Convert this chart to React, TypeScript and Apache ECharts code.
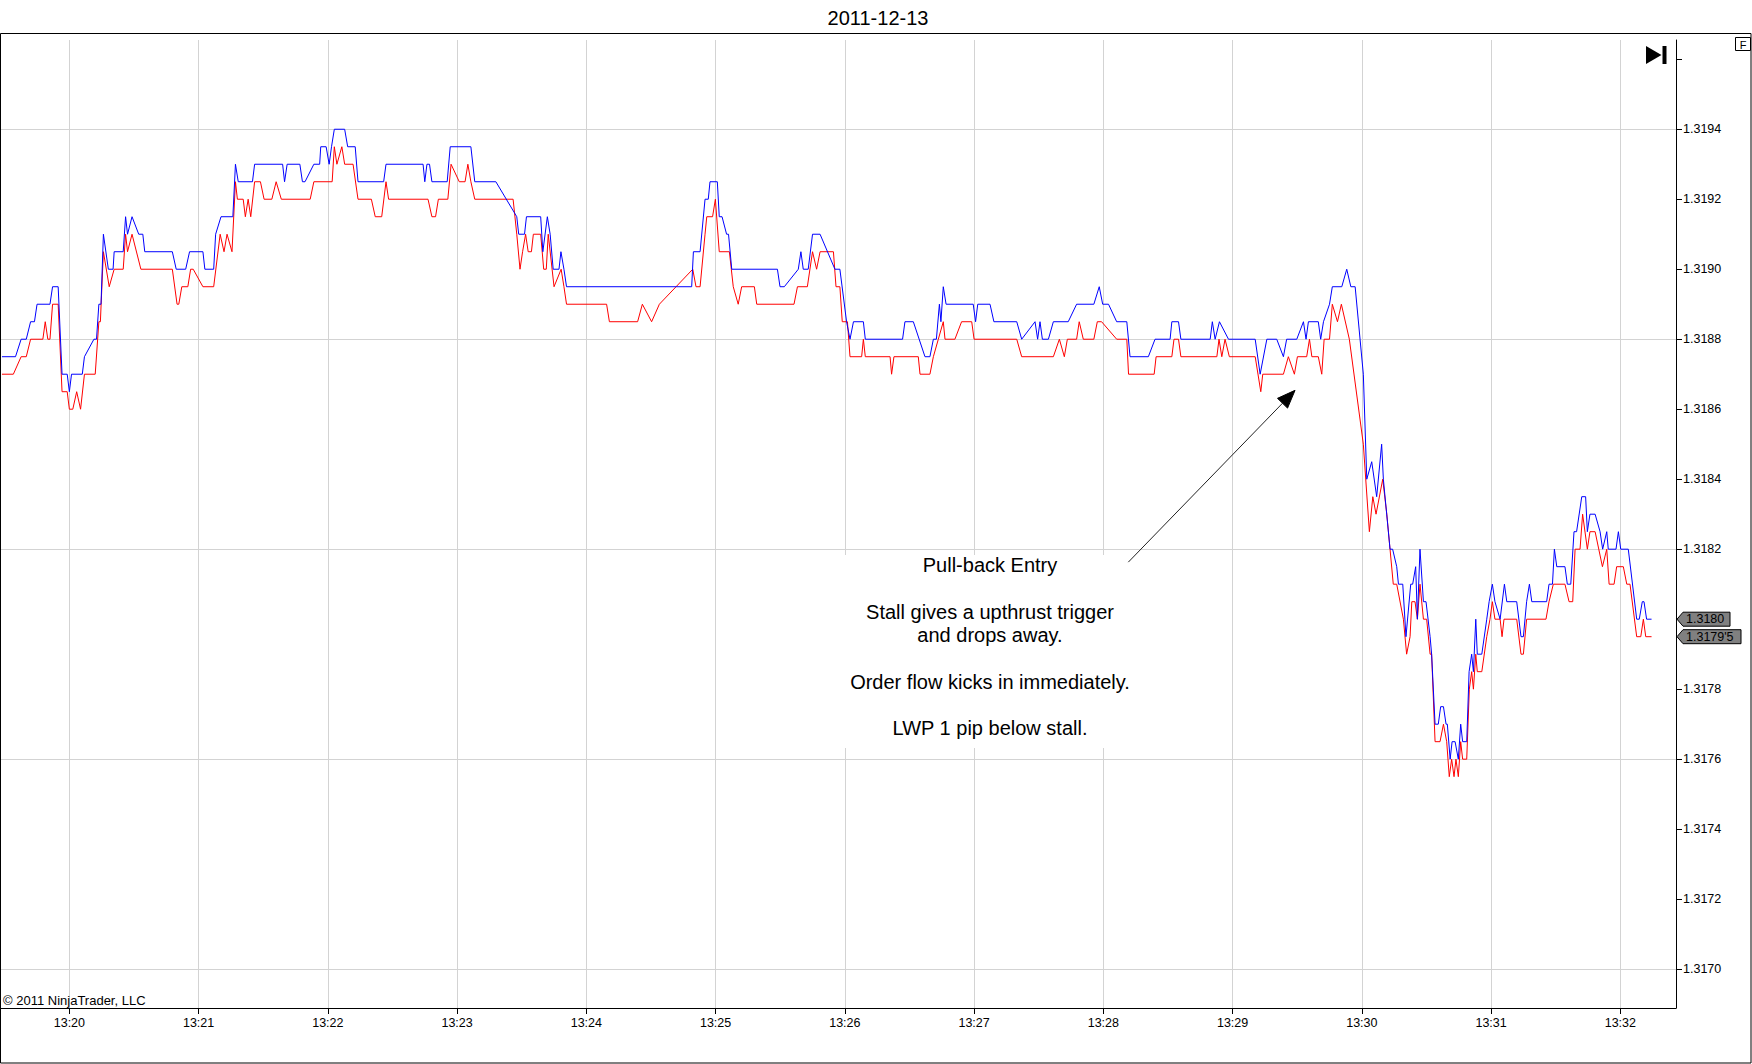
import React, { useEffect, useRef } from "react";
import * as echarts from "echarts";

const TITLE = "2011-12-13";
const COPYRIGHT = "© 2011 NinjaTrader, LLC";
const FONT = "'Liberation Sans', Arial, sans-serif";

// x values: seconds after 13:20:00
const minuteTicks = [0, 60, 120, 180, 240, 300, 360, 420, 480, 540, 600, 660, 720];
const xMin = -32.2;
const xMax = 745.85;

const priceTicks = [1.317, 1.3172, 1.3174, 1.3176, 1.3178, 1.318, 1.3182, 1.3184, 1.3186, 1.3188, 1.319, 1.3192, 1.3194, 1.3196];
const priceLabels = [1.317, 1.3172, 1.3174, 1.3176, 1.3178, 1.318, 1.3182, 1.3184, 1.3186, 1.3188, 1.319, 1.3192, 1.3194];
const priceGrid = [1.317, 1.3176, 1.3182, 1.3188, 1.3194];
const yMin = 1.316889;
const yMax = 1.319655;

// Ask (blue) [second, price]
const askData: [number, number][] = [
  [-31.3, 1.31875], [-25, 1.31875], [-22.4, 1.3188], [-20, 1.3188], [-18, 1.31885], [-16.2, 1.31885],
  [-15, 1.3189], [-9, 1.3189], [-7.8, 1.31895], [-5.2, 1.31895], [-3.4, 1.3187], [-1, 1.3187],
  [0, 1.31865], [1, 1.3187], [6, 1.3187], [7, 1.31875], [11.4, 1.3188], [12.6, 1.3188],
  [13.7, 1.3189], [14.7, 1.3189], [15.8, 1.3191], [18.1, 1.319], [20.3, 1.319], [20.8, 1.31905],
  [25, 1.31905], [26.1, 1.31915], [27, 1.3191], [29.1, 1.31915], [32.2, 1.3191], [34.1, 1.3191],
  [35, 1.31905], [47.8, 1.31905], [49.6, 1.319], [54, 1.319], [55.8, 1.31905], [62, 1.31905],
  [62.9, 1.319], [67, 1.319], [67.9, 1.3191], [70.4, 1.31915], [75.9, 1.31915], [77.1, 1.3193],
  [78.4, 1.31925], [85, 1.31925], [86, 1.3193], [99, 1.3193], [99.9, 1.31925], [101.1, 1.3193],
  [107, 1.3193], [108.2, 1.31925], [109.4, 1.31925], [113.5, 1.3193], [116.2, 1.3193], [116.7, 1.31935],
  [119.2, 1.31935], [120.6, 1.3193], [121.7, 1.31935], [123, 1.3194], [127.8, 1.3194], [129.2, 1.31935],
  [132.7, 1.31935], [134, 1.31925], [145.9, 1.31925], [147, 1.3193], [164.2, 1.3193], [165, 1.31925],
  [166, 1.3193], [167.2, 1.3193], [168.3, 1.31925], [175.4, 1.31925], [176.8, 1.31935], [186.4, 1.31935],
  [188.2, 1.31925], [198, 1.31925], [207.7, 1.31915], [208.6, 1.3191], [211.3, 1.3191], [212.2, 1.31915],
  [218.8, 1.31915], [219.8, 1.31905], [221.9, 1.31915], [223.2, 1.3191], [224.6, 1.319], [227.3, 1.319],
  [228.2, 1.31905], [229.6, 1.319], [230.8, 1.31895], [288.9, 1.31895], [289.7, 1.31905], [292.8, 1.31905],
  [295.1, 1.3192], [296.6, 1.3192], [297.4, 1.31925], [300.8, 1.31925], [301.7, 1.31915], [303, 1.31915],
  [305.1, 1.3191], [306, 1.3191], [307.5, 1.319], [328.7, 1.319], [329.9, 1.31895], [331.9, 1.31895],
  [338.4, 1.319], [339.6, 1.31905], [340.7, 1.319], [343, 1.319], [345, 1.3191], [348.5, 1.3191],
  [355.4, 1.319], [357.7, 1.319], [360.8, 1.31885], [362.4, 1.3188], [364, 1.31885], [368.6, 1.31885],
  [369.5, 1.3188], [386.8, 1.3188], [387.9, 1.31885], [391.8, 1.31885], [397.2, 1.31875], [399.5, 1.31875],
  [401.1, 1.3188], [402.5, 1.3188], [403.9, 1.3189], [404.6, 1.31885], [405.7, 1.31895], [407, 1.3189],
  [419.6, 1.3189], [420.7, 1.31885], [421.7, 1.3189], [427.4, 1.3189], [429.2, 1.31885], [439.8, 1.31885],
  [442.1, 1.3188], [448.3, 1.31885], [449.5, 1.3188], [450.6, 1.31885], [451.7, 1.3188], [454.5, 1.3188],
  [456.8, 1.31885], [463.7, 1.31885], [467.6, 1.3189], [475.6, 1.3189], [478.1, 1.31895], [479.7, 1.3189],
  [482.4, 1.3189], [486.2, 1.31885], [490.9, 1.31885], [492.4, 1.31875], [500.9, 1.31875], [504, 1.3188],
  [511, 1.3188], [511.8, 1.31885], [514.9, 1.31885], [516, 1.3188], [529.6, 1.3188], [530.6, 1.31885],
  [531.9, 1.3188], [533.9, 1.31885], [538.1, 1.3188], [550.5, 1.3188], [552.8, 1.3187], [555.9, 1.3188],
  [560.5, 1.3188], [563.6, 1.31875], [565.1, 1.3188], [569.8, 1.3188], [572.9, 1.31885], [574.1, 1.3188],
  [575.2, 1.31885], [579.8, 1.31885], [580.9, 1.3188], [582.2, 1.31885], [585, 1.3189], [586.3, 1.31895],
  [590.7, 1.31895], [593, 1.319], [594.9, 1.31895], [596.9, 1.31895], [600.7, 1.3187], [602.3, 1.3184],
  [604.6, 1.31845], [606.9, 1.31835], [609.2, 1.3185], [610, 1.3184], [613.1, 1.3182], [614.3, 1.3182],
  [616.2, 1.31815], [617, 1.3181], [619, 1.3181], [620.5, 1.31795], [622.7, 1.3181], [623.6, 1.3181],
  [625, 1.31815], [625.8, 1.318], [627, 1.3182], [628.6, 1.31805], [629.8, 1.31805], [631.7, 1.31795],
  [632.4, 1.3179], [634, 1.3177], [635.5, 1.3177], [636.6, 1.31775], [637.9, 1.31775], [639.1, 1.3177],
  [639.7, 1.3177], [641, 1.3176], [641.9, 1.31765], [643.3, 1.31765], [644.8, 1.3176], [645.9, 1.3177],
  [646.8, 1.31765], [648.7, 1.31765], [649.8, 1.31785], [651, 1.3179], [651.8, 1.31785], [652.9, 1.318],
  [653.6, 1.3179], [655.7, 1.3179], [658, 1.318], [659.1, 1.31805], [660.6, 1.3181], [661.8, 1.31805],
  [664.2, 1.318], [666.2, 1.3181], [667.3, 1.31805], [671.9, 1.31805], [673.9, 1.31795], [675, 1.31795],
  [676.5, 1.31805], [677.8, 1.3181], [678.9, 1.31805], [685.8, 1.31805], [686.9, 1.3181], [688.5, 1.3181],
  [689.4, 1.3182], [690.5, 1.31815], [694.3, 1.31815], [695.4, 1.3181], [697, 1.3181], [698.5, 1.31825],
  [699.7, 1.31825], [702.1, 1.31835], [703.9, 1.31835], [704.7, 1.31825], [705.9, 1.3183], [708.3, 1.3183],
  [710.6, 1.31825], [711.8, 1.3182], [713.7, 1.31825], [714.4, 1.3182], [718, 1.3182], [719.1, 1.31825],
  [720.2, 1.3182], [723.7, 1.3182], [727.6, 1.318], [728.8, 1.318], [730.2, 1.31805], [731, 1.31805],
  [732.2, 1.318], [734.5, 1.318],
];

// Bid (red) [second, price]
const bidData: [number, number][] = [
  [-31.3, 1.3187], [-26, 1.3187], [-22.4, 1.31875], [-20, 1.31875], [-18, 1.3188], [-12.3, 1.3188],
  [-11.2, 1.31885], [-10, 1.3188], [-9, 1.3188], [-7.8, 1.3189], [-5.2, 1.3189], [-3.4, 1.31865],
  [-1, 1.31865], [0, 1.3186], [1.6, 1.3186], [3.4, 1.31865], [5.2, 1.3186], [7, 1.3187],
  [12, 1.3187], [13.7, 1.31885], [14.4, 1.31885], [15.8, 1.31905], [18.5, 1.31895], [20.8, 1.319],
  [25, 1.319], [26.1, 1.3191], [27, 1.31905], [29.1, 1.3191], [33.2, 1.319], [47.8, 1.319],
  [50, 1.3189], [50.8, 1.3189], [52.2, 1.31895], [55, 1.31895], [56.3, 1.319], [57.5, 1.319],
  [62, 1.31895], [67, 1.31895], [70, 1.3191], [71.8, 1.31905], [73.2, 1.3191], [75.5, 1.31905],
  [77.1, 1.31925], [78, 1.3192], [80.7, 1.3192], [81.7, 1.31915], [83, 1.3192], [84.2, 1.31915],
  [86, 1.31925], [88.7, 1.31925], [90.4, 1.3192], [94, 1.3192], [96, 1.31925], [98.4, 1.3192],
  [111.8, 1.3192], [113.5, 1.31925], [122, 1.31925], [123, 1.31935], [124.2, 1.3193], [126.5, 1.31935],
  [127.8, 1.3193], [131.7, 1.3193], [134, 1.3192], [140.2, 1.3192], [142, 1.31915], [145, 1.31915],
  [147, 1.31925], [148.2, 1.3192], [166.5, 1.3192], [168.3, 1.31915], [170, 1.31915], [171.3, 1.3192],
  [175.7, 1.3192], [177.2, 1.3193], [181, 1.31925], [183.7, 1.31925], [185, 1.3193], [186.4, 1.31925],
  [188.2, 1.3192], [206, 1.3192], [207.7, 1.3191], [209.2, 1.319], [210.4, 1.31905], [211.8, 1.3191],
  [213, 1.31905], [214.5, 1.31905], [215.4, 1.3191], [218.8, 1.3191], [220.2, 1.319], [221.4, 1.319],
  [222.3, 1.3191], [225, 1.31895], [228.3, 1.319], [229.6, 1.31895], [230.8, 1.3189], [249.4, 1.3189],
  [250.7, 1.31885], [263.8, 1.31885], [266, 1.3189], [270.3, 1.31885], [273.9, 1.3189], [289.4, 1.319],
  [290.9, 1.31895], [292.8, 1.31895], [295.1, 1.3191], [295.9, 1.31915], [298.6, 1.31915], [299.9, 1.3192],
  [301.7, 1.31905], [306.4, 1.31905], [308.2, 1.31895], [310.5, 1.3189], [312.1, 1.31895], [318, 1.31895],
  [319.1, 1.3189], [336.4, 1.3189], [338, 1.31895], [342.6, 1.31895], [345, 1.31905], [346.9, 1.319],
  [348.5, 1.31905], [354.7, 1.31905], [355.9, 1.31895], [357.7, 1.31895], [358.8, 1.31885], [361.2, 1.31885],
  [362.4, 1.31875], [367.8, 1.31875], [368.6, 1.3188], [369.5, 1.31875], [381, 1.31875], [381.7, 1.3187],
  [382.8, 1.31875], [394.1, 1.31875], [394.9, 1.3187], [399.5, 1.3187], [401.1, 1.31875], [403.4, 1.3188],
  [405.7, 1.31885], [406.5, 1.3188], [411.1, 1.3188], [414.2, 1.31885], [418.9, 1.31885], [420, 1.3188],
  [439.8, 1.3188], [442.1, 1.31875], [456.8, 1.31875], [459.6, 1.3188], [461.9, 1.31875], [463.3, 1.3188],
  [467.6, 1.3188], [468.8, 1.31885], [470.7, 1.3188], [475.6, 1.3188], [477.2, 1.31885], [479.2, 1.31885],
  [486.2, 1.3188], [490.9, 1.3188], [491.7, 1.3187], [503.6, 1.3187], [504.5, 1.31875], [511.8, 1.31875],
  [512.8, 1.3188], [514.9, 1.3188], [516, 1.31875], [532.7, 1.31875], [533.7, 1.3188], [535, 1.31875],
  [536.5, 1.3188], [538.5, 1.31875], [550.5, 1.31875], [553.1, 1.31865], [554, 1.3187], [563.6, 1.3187],
  [565.9, 1.31875], [568.7, 1.3187], [570.1, 1.31875], [574.4, 1.31875], [575.7, 1.3188], [576.8, 1.31875],
  [579.8, 1.31875], [581.4, 1.3187], [582.5, 1.3188], [585, 1.3188], [586.3, 1.3189], [588.7, 1.31885],
  [590.5, 1.3189], [594.2, 1.3188], [600.7, 1.3185], [603.5, 1.31825], [605.1, 1.31835], [606.6, 1.3183],
  [609.7, 1.3184], [611.6, 1.3183], [614.6, 1.3181], [616.2, 1.3181], [619.3, 1.318], [620.8, 1.3179],
  [622.4, 1.31795], [623.2, 1.31805], [624.7, 1.31805], [625.8, 1.318], [627, 1.3181], [628.6, 1.318],
  [630.1, 1.318], [631.7, 1.3179], [632.4, 1.3179], [634, 1.31765], [636.3, 1.31765], [637.9, 1.3177],
  [639.4, 1.31765], [640.6, 1.31755], [641.7, 1.3176], [642.8, 1.31755], [643.7, 1.3176], [644.8, 1.31755],
  [645.9, 1.31765], [646.8, 1.3176], [648.7, 1.3176], [649.9, 1.3178], [651, 1.31785], [651.8, 1.3178],
  [652.9, 1.3179], [653.6, 1.31785], [655.7, 1.31785], [658, 1.31795], [659.5, 1.318], [660.6, 1.31805],
  [661.8, 1.318], [664.2, 1.318], [665.1, 1.31795], [666, 1.318], [671.9, 1.318], [673.9, 1.3179],
  [675, 1.3179], [676.5, 1.318], [685.5, 1.318], [686.9, 1.31805], [688.9, 1.3181], [694.3, 1.3181],
  [696.2, 1.31805], [697.9, 1.31805], [699, 1.3182], [701.3, 1.3182], [702.5, 1.3183], [704.7, 1.3182],
  [705.9, 1.31825], [708.3, 1.31825], [711.7, 1.31815], [713.7, 1.3182], [714.8, 1.3181], [717.1, 1.3181],
  [718.3, 1.31815], [721.4, 1.31815], [723, 1.3181], [724.5, 1.3181], [727.6, 1.31795], [729.5, 1.31795],
  [730.7, 1.318], [731.8, 1.31795], [734.5, 1.31795],
];

const noteLines = [
  "Pull-back Entry",
  "",
  "Stall gives a upthrust trigger",
  "and drops away.",
  "",
  "Order flow kicks in immediately.",
  "",
  "LWP 1 pip below stall.",
];
// arrow tail / tip in data coordinates [second, price]
const arrowTail: [number, number] = [491.6, 1.318163];
const arrowTip: [number, number] = [569.0, 1.318654];

const W = 1752;
const H = 1064;

function fmtPrice(v: number): string {
  const s = v.toFixed(5);
  if (s.endsWith("0")) return v.toFixed(4);
  return s.slice(0, 6) + "'" + s.slice(6);
}

export default function App() {
  const ref = useRef<HTMLDivElement>(null);
  useEffect(() => {
    if (!ref.current) return;
    const chart = echarts.init(ref.current, undefined, { renderer: "svg" });
    const gridLeft = 0;
    const gridRight = 76;
    const gridTop = 40;
    const gridBottom = 56;
    chart.setOption({
      animation: false,
      backgroundColor: "#ffffff",
      textStyle: { fontFamily: FONT },
      grid: { left: gridLeft, right: gridRight, top: gridTop, bottom: gridBottom, containLabel: false },
      xAxis: {
        type: "value",
        min: xMin,
        max: xMax,
        axisLine: { show: true, onZero: false, lineStyle: { color: "#000", width: 1 } },
        axisTick: { show: true, length: 6, inside: false, lineStyle: { color: "#000" }, customValues: minuteTicks },
        axisLabel: {
          show: true,
          customValues: minuteTicks,
          margin: 8,
          color: "#000",
          fontSize: 12.5,
          fontFamily: FONT,
          formatter: (v: number) => "13:" + String(20 + Math.round(v / 60)),
        },
        splitLine: { show: true, lineStyle: { color: "#d3d3d3", width: 1 } },
      },
      yAxis: [
        {
          type: "value",
          position: "right",
          min: yMin,
          max: yMax,
          axisLine: { show: true, onZero: false, lineStyle: { color: "#000", width: 1 } },
          axisTick: { show: true, length: 6, inside: false, lineStyle: { color: "#000" }, customValues: priceTicks },
          axisLabel: {
            show: true,
            customValues: priceLabels,
            margin: 7,
            color: "#000",
            fontSize: 12.5,
            fontFamily: FONT,
            formatter: (v: number) => v.toFixed(4),
          },
          splitLine: { show: false },
        },
        {
          type: "value",
          position: "right",
          min: yMin,
          max: yMax,
          axisLine: { show: false, onZero: false },
          axisTick: { show: false, customValues: priceGrid },
          axisLabel: { show: false },
          splitLine: { show: true, lineStyle: { color: "#d3d3d3", width: 1 } },
        },
      ],
      series: [
        {
          name: "Bid",
          type: "line",
          data: bidData,
          showSymbol: false,
          symbol: "none",
          lineStyle: { color: "#ff0000", width: 1 },
          itemStyle: { color: "#ff0000" },
          silent: true,
          z: 3,
        },
        {
          name: "Ask",
          type: "line",
          data: askData,
          showSymbol: false,
          symbol: "none",
          lineStyle: { color: "#0000ff", width: 1 },
          itemStyle: { color: "#0000ff" },
          silent: true,
          z: 4,
        },
      ],
    });

    const toPx = (p: [number, number]) => chart.convertToPixel({ seriesIndex: 0 }, p) as number[];
    const tail = toPx(arrowTail);
    const tip = toPx(arrowTip);
    const dx = tip[0] - tail[0];
    const dy = tip[1] - tail[1];
    const len = Math.sqrt(dx * dx + dy * dy);
    const ux = dx / len;
    const uy = dy / len;
    const headLen = 18;
    const headHalf = 7;
    const bx = tip[0] - ux * headLen;
    const by = tip[1] - uy * headLen;
    const nx = -uy;
    const ny = ux;

    const lastAsk = askData[askData.length - 1];
    const lastBid = bidData[bidData.length - 1];
    const askY = toPx(lastAsk)[1];
    const bidY = toPx(lastBid)[1];
    const axisX = W - gridRight;
    const tag = (y: number, txt: string, w: number) => [
      {
        type: "polygon",
        z: 20,
        shape: {
          points: [
            [axisX + 1, y],
            [axisX + 7, y - 7],
            [axisX + 7 + w, y - 7],
            [axisX + 7 + w, y + 7],
            [axisX + 7, y + 7],
          ],
        },
        style: { fill: "#808080", stroke: "#000", lineWidth: 1 },
      },
      {
        type: "text",
        z: 21,
        x: axisX + 10,
        y: y,
        style: { text: txt, fill: "#000", font: `12.5px ${FONT}`, textAlign: "left", textVerticalAlign: "middle" },
      },
    ];

    const noteCx = 990;
    const noteTop = 565;
    const notePitch = 23.3;

    chart.setOption({
      graphic: [
        // outer frame
        {
          type: "rect",
          z: 30,
          silent: true,
          shape: { x: 0.5, y: 33.5, width: W - 1.5, height: H - 34.5 },
          style: { fill: "none", stroke: "#000", lineWidth: 1 },
        },
        {
          type: "text",
          z: 30,
          x: W / 2 + 2,
          y: 17.5,
          style: { text: TITLE, fill: "#000", font: `20px ${FONT}`, textAlign: "center", textVerticalAlign: "middle" },
        },
        // note box (hides grid lines)
        {
          type: "rect",
          z: 1,
          silent: true,
          shape: { x: 838, y: 555, width: 302, height: 193 },
          style: { fill: "#ffffff", stroke: "none" },
        },
        ...noteLines
          .map((t, i) => ({ t, i }))
          .filter((o) => o.t.length > 0)
          .map((o) => ({
            type: "text",
            z: 30,
            x: noteCx,
            y: noteTop + o.i * notePitch,
            style: { text: o.t, fill: "#000", font: `20px ${FONT}`, textAlign: "center", textVerticalAlign: "middle" },
          })),
        // arrow
        {
          type: "line",
          z: 30,
          shape: { x1: tail[0], y1: tail[1], x2: bx, y2: by },
          style: { stroke: "#222", lineWidth: 1 },
        },
        {
          type: "polygon",
          z: 30,
          shape: {
            points: [
              [tip[0], tip[1]],
              [bx + nx * headHalf, by + ny * headHalf],
              [bx - nx * headHalf, by - ny * headHalf],
            ],
          },
          style: { fill: "#000", stroke: "#000", lineWidth: 1 },
        },
        // copyright
        {
          type: "text",
          z: 30,
          x: 3,
          y: 1000,
          style: { text: COPYRIGHT, fill: "#000", font: `13px ${FONT}`, textAlign: "left", textVerticalAlign: "middle" },
        },
        // play-to-end icon
        {
          type: "polygon",
          z: 30,
          shape: { points: [[1646, 46], [1661.5, 55], [1646, 64]] },
          style: { fill: "#000" },
        },
        {
          type: "rect",
          z: 30,
          shape: { x: 1662.5, y: 46, width: 4, height: 18 },
          style: { fill: "#000" },
        },
        // F box
        {
          type: "rect",
          z: 30,
          shape: { x: 1735.5, y: 37.5, width: 15, height: 13 },
          style: { fill: "#fff", stroke: "#000", lineWidth: 1 },
        },
        {
          type: "text",
          z: 31,
          x: 1743,
          y: 44.5,
          style: { text: "F", fill: "#000", font: `11px ${FONT}`, textAlign: "center", textVerticalAlign: "middle" },
        },
        ...tag(askY, fmtPrice(lastAsk[1]), 47),
        ...tag(bidY, fmtPrice(lastBid[1]), 58),
      ],
    });

    return () => chart.dispose();
  }, []);

  return (
    <div
      ref={ref}
      style={{ position: "fixed", left: 0, top: 0, width: W, height: H, background: "#fff" }}
    />
  );
}
